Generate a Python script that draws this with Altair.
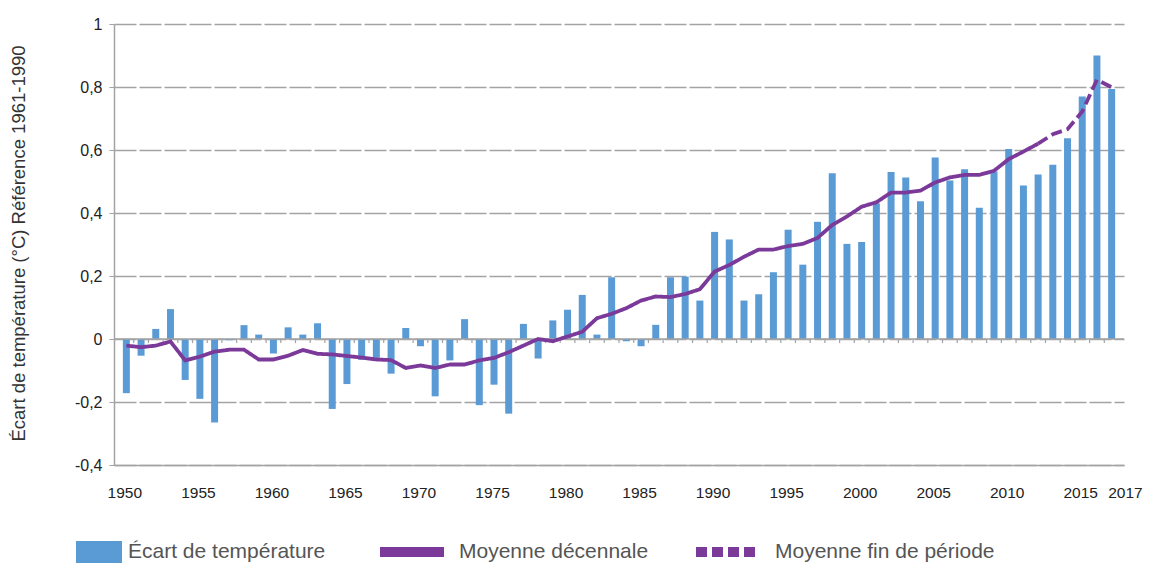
import altair as alt
import pandas as pd

# ---------------- data ----------------
annees = list(range(1950, 2018))
ecart = [
    -0.172, -0.053, 0.032, 0.095, -0.130, -0.190, -0.265, -0.004, 0.044, 0.014,
    -0.046, 0.037, 0.014, 0.050, -0.222, -0.143, -0.066, -0.060, -0.110, 0.035,
    -0.023, -0.182, -0.068, 0.063, -0.210, -0.145, -0.237, 0.048, -0.062, 0.059,
    0.093, 0.140, 0.014, 0.196, -0.007, -0.023, 0.045, 0.196, 0.198, 0.122,
    0.340, 0.316, 0.122, 0.142, 0.212, 0.347, 0.236, 0.372, 0.526, 0.302,
    0.308, 0.431, 0.530, 0.513, 0.437, 0.576, 0.503, 0.539, 0.417, 0.532,
    0.603, 0.487, 0.522, 0.553, 0.637, 0.770, 0.900, 0.794,
]
moyenne = [
    -0.021, -0.026, -0.021, -0.008, -0.068, -0.056, -0.040, -0.034, -0.034, -0.065,
    -0.065, -0.053, -0.035, -0.047, -0.049, -0.054, -0.059, -0.065, -0.067, -0.092,
    -0.084, -0.092, -0.081, -0.081, -0.068, -0.060, -0.042, -0.021, 0.000, -0.007,
    0.008, 0.023, 0.066, 0.080, 0.098, 0.122, 0.135, 0.133, 0.143, 0.158,
    0.214, 0.235, 0.261, 0.284, 0.284, 0.295, 0.302, 0.321, 0.362, 0.389,
    0.420, 0.434, 0.465, 0.465, 0.471, 0.497, 0.513, 0.521, 0.521, 0.534,
    0.571, 0.595, 0.620, 0.650, 0.666, 0.722, 0.823, 0.799,
]
debut_fin_periode = 2012
etiquettes_annees = [1950, 1955, 1960, 1965, 1970, 1975, 1980, 1985, 1990,
                     1995, 2000, 2005, 2010, 2015, 2017]
graduations_y = [-0.4, -0.3, -0.2, -0.1, 0.0, 0.1, 0.2, 0.3, 0.4, 0.5,
                 0.6, 0.7, 0.8, 0.9, 1.0]
serie_barres = "Écart de température"
series_lignes = ["Moyenne décennale", "Moyenne fin de période"]
titre_y = "Écart de température (°C) Référence 1961-1990"

# ---------------- tables ----------------
bars_df = pd.DataFrame({"annee": annees, "ecart": ecart, "serie": serie_barres})
rows = []
for a, m in zip(annees, moyenne):
    if a <= debut_fin_periode:
        rows.append({"annee": a, "moy": m, "serie": series_lignes[0]})
    if a >= debut_fin_periode:
        rows.append({"annee": a, "moy": m, "serie": series_lignes[1]})
line_df = pd.DataFrame(rows)
ticks_df = pd.DataFrame({"annee": annees[1:]})
zero_df = pd.DataFrame({"y": [0.0]})

# ---------------- styles ----------------
FONT = "Liberation Sans, Arial, sans-serif"
BLUE = "#5b9bd5"
PURPLE = "#7b3a99"
GRID = "#a3a3a3"

x_scale = alt.Scale(domain=[1949.5, 2017.5], nice=False, zero=False)
y_scale = alt.Scale(domain=[-0.4, 1.0], nice=False, zero=False)

y_label_expr = ("abs(round(datum.value*10)) % 2 == 0 ? "
                "(datum.value < 0 ? '-' : '') + replace(format(abs(datum.value), '.1~f'), '.', ',') : ''")

x_axis = alt.Axis(
    values=etiquettes_annees, format="d", title=None, grid=False, ticks=False,
    domainColor=GRID, domainWidth=1.5, labelPadding=20, labelFontSize=15.5,
    labelColor="#222", labelFont=FONT, labelOverlap=False, labelFlush=False,
    labelAlign={"condition": {"test": "datum.value == 2017", "value": "left"}, "value": "center"},
    labelOffset={"condition": {"test": "datum.value == 2017", "value": -4},
                 "value": -2},
)
y_axis = alt.Axis(
    values=graduations_y, labelExpr=y_label_expr, grid=True, gridDash=[22, 3],
    gridColor=GRID, gridWidth=1.3, domainColor=GRID, domainWidth=1.5,
    tickColor=GRID, tickSize=5, labelFontSize=16, labelPadding=7, labelColor="#222",
    labelFont=FONT, title=titre_y, titleFont=FONT, titleFontSize=18.5,
    titleFontWeight="normal", titleColor="#333", titleX=-86, titleY=219,
)

bars = alt.Chart(bars_df).mark_bar(size=7).encode(
    x=alt.X("annee:Q", scale=x_scale, axis=x_axis),
    y=alt.Y("ecart:Q", scale=y_scale, axis=y_axis),
    color=alt.Color(
        "serie:N",
        scale=alt.Scale(domain=[serie_barres], range=[BLUE]),
        legend=alt.Legend(
            title=None, orient="none", legendX=-38, legendY=505, padding=0,
            symbolType="M-1,-0.478H1V0.478H-1Z", symbolSize=2116, symbolOpacity=1,
            symbolStrokeWidth=0, labelFontSize=21, labelFont=FONT,
            labelColor="#555", labelOffset=6, labelLimit=400,
        ),
    ),
)

zero_line = alt.Chart(zero_df).mark_rule(color=GRID, strokeWidth=1.5).encode(
    y=alt.Y("y:Q", scale=y_scale)
)

small_ticks = alt.Chart(ticks_df).transform_calculate(
    xb="datum.annee - 0.5"
).mark_rule(color=GRID, strokeWidth=1.2).encode(
    x=alt.X("xb:Q", scale=x_scale),
    y=alt.datum(0),
    y2=alt.datum(-0.013),
)

lines = alt.Chart(line_df).mark_line(color=PURPLE, strokeWidth=3.8).encode(
    x=alt.X("annee:Q", scale=x_scale),
    y=alt.Y("moy:Q", scale=y_scale),
    order="annee:Q",
    strokeDash=alt.StrokeDash(
        "serie:N",
        scale=alt.Scale(domain=series_lignes, range=[[1, 0], [11, 5]]),
        legend=alt.Legend(
            title=None, orient="none", direction="horizontal", legendX=261,
            legendY=491, padding=0, symbolType="stroke", symbolSize=4096,
            symbolStrokeWidth=10, symbolStrokeColor=PURPLE, labelFontSize=21,
            labelFont=FONT, labelColor="#555", labelOffset=10, columnPadding=27,
            labelLimit=400,
        ),
    ),
)

chart = alt.layer(bars, zero_line, small_ticks, lines).properties(
    width=1010, height=441,
    autosize=alt.AutoSizeParams(type="none"),
    padding={"left": 106, "top": 16, "right": 23, "bottom": 99},
    background="white",
).configure_view(stroke=None)

chart.save("out.html", embed_options={"renderer": "svg", "actions": False})
